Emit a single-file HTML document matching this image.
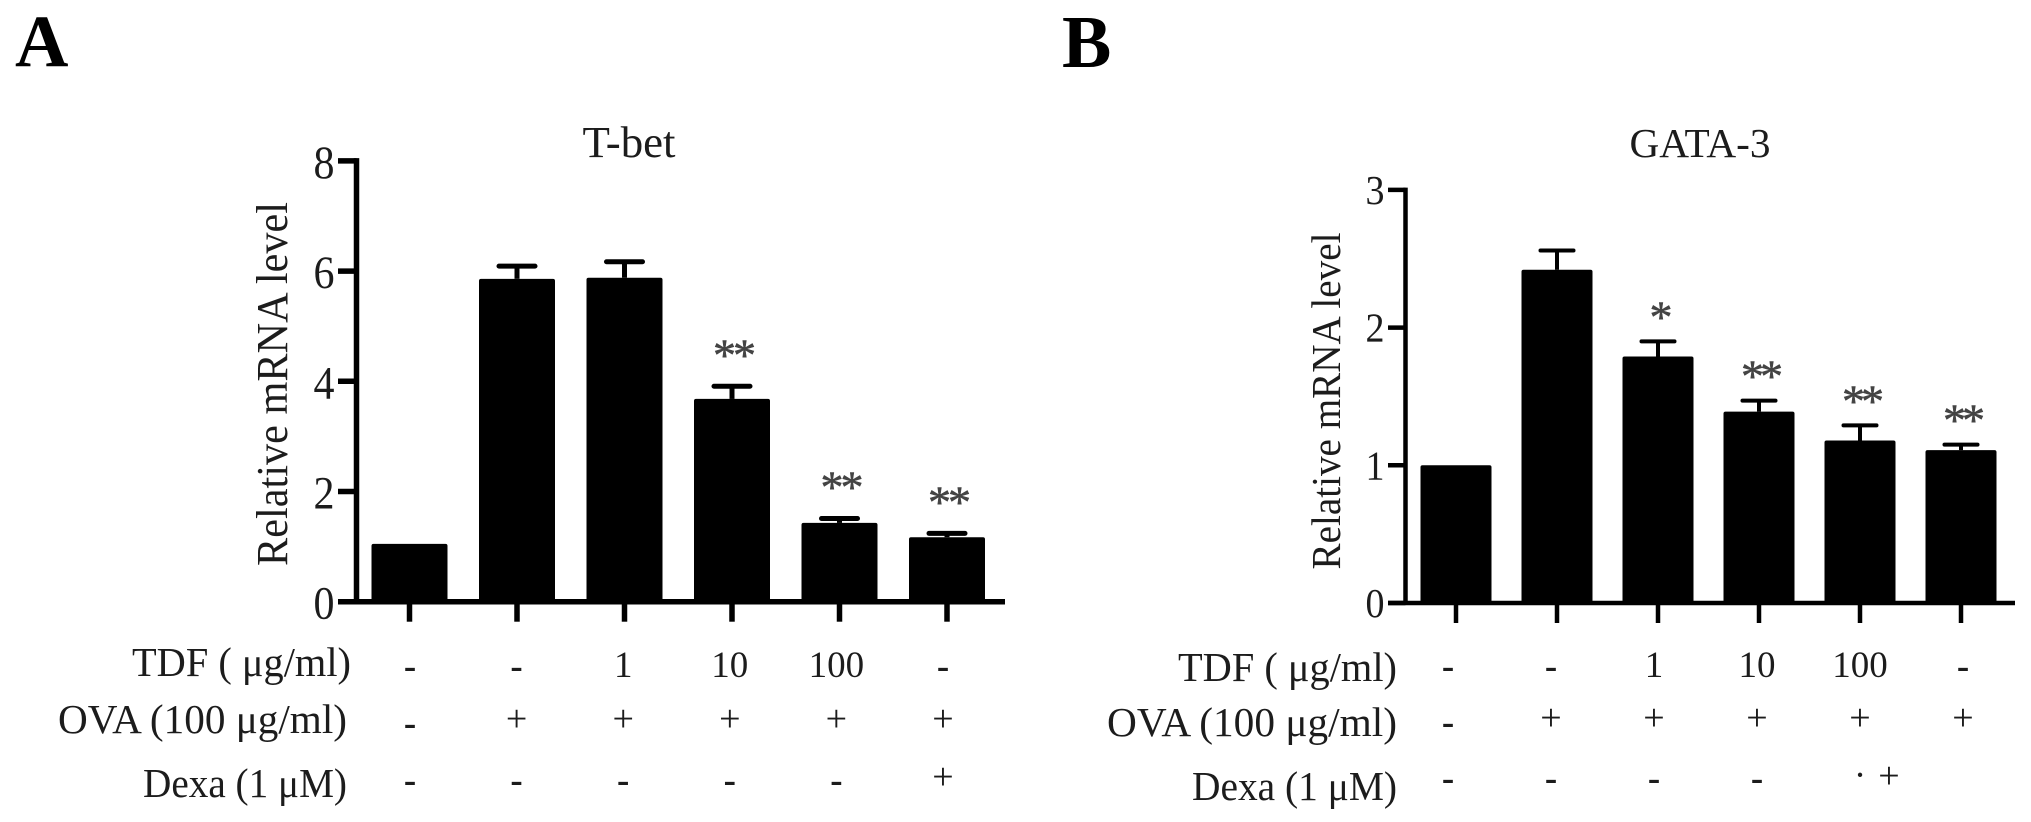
<!DOCTYPE html>
<html lang="en">
<head>
<meta charset="utf-8">
<title>T-bet and GATA-3 relative mRNA levels</title>
<style>
html,body{margin:0;padding:0;background:#fff;width:2031px;height:822px;overflow:hidden}
svg{display:block}
text{font-family:"Liberation Serif","Noto Serif CJK SC",serif;fill:#1c1c1c}
</style>
</head>
<body>
<svg id="figure" width="2031" height="822" viewBox="0 0 2031 822" xmlns="http://www.w3.org/2000/svg">
  <rect width="2031" height="822" fill="#fff"/>

  <text x="15" y="66" font-size="74" font-weight="bold" style="fill:#000">A</text>
  <text x="1062" y="67" font-size="74" font-weight="bold" style="fill:#000">B</text>

  <text x="629" y="157" font-size="44" text-anchor="middle" textLength="93" lengthAdjust="spacingAndGlyphs">T-bet</text>
  <text x="1700" y="157" font-size="41" text-anchor="middle" textLength="141" lengthAdjust="spacingAndGlyphs">GATA-3</text>

  <text transform="translate(287 384) rotate(-90)" font-size="44" text-anchor="middle" textLength="364" lengthAdjust="spacingAndGlyphs">Relative mRNA level</text>
  <text transform="translate(1340 401) rotate(-90)" font-size="41" text-anchor="middle" textLength="337" lengthAdjust="spacingAndGlyphs">Relative mRNA level</text>

  <text x="132" y="676" font-size="41" textLength="219" lengthAdjust="spacingAndGlyphs">TDF ( μg/ml)</text>
  <text x="58" y="733" font-size="41" textLength="289" lengthAdjust="spacingAndGlyphs">OVA (100 μg/ml)</text>
  <text x="143" y="797" font-size="41" textLength="204" lengthAdjust="spacingAndGlyphs">Dexa (1 μM)</text>

  <text x="1178" y="681" font-size="41" textLength="219" lengthAdjust="spacingAndGlyphs">TDF ( μg/ml)</text>
  <text x="1107" y="736" font-size="41" textLength="290" lengthAdjust="spacingAndGlyphs">OVA (100 μg/ml)</text>
  <text x="1192" y="800" font-size="41" textLength="205" lengthAdjust="spacingAndGlyphs">Dexa (1 μM)</text>

  <text x="1889" y="788" font-size="38" text-anchor="middle">+</text>

  <g id="panel-a"></g>
  <g id="panel-b"></g>
</svg>

<script>
// T-bet data
const tbetTicks = [0, 2, 4, 6, 8];
const tbetMeans = [1.05, 5.86, 5.88, 3.68, 1.43, 1.17];
const tbetErrors = [0, 0.23, 0.29, 0.23, 0.08, 0.07];
const tbetStars = ['', '', '', '**', '**', '**'];
const tbetTdf = ['-', '-', '1', '10', '100', '-'];
const tbetOva = ['-', '+', '+', '+', '+', '+'];
const tbetDexa = ['-', '-', '-', '-', '-', '+'];

// GATA-3 data
const gataTicks = [0, 1, 2, 3];
const gataMeans = [1.0, 2.42, 1.79, 1.39, 1.18, 1.11];
const gataErrors = [0, 0.14, 0.11, 0.08, 0.11, 0.04];
const gataStars = ['', '', '*', '**', '**', '**'];
const gataTdf = ['-', '-', '1', '10', '100', '-'];
const gataOva = ['-', '+', '+', '+', '+', '+'];
const gataDexa = ['-', '-', '-', '-', '·'];

const SVGNS = 'http://www.w3.org/2000/svg';

function mk(parent, tag, attrs, content) {
  const el = document.createElementNS(SVGNS, tag);
  for (const k in attrs) el.setAttribute(k, attrs[k]);
  if (content !== undefined) el.textContent = content;
  parent.appendChild(el);
  return el;
}

function drawPanel(root, o) {
  const y = v => o.y0 - v * o.unit;
  const x = i => o.x0 + i * o.step;
  const colX = i => o.col0 + i * o.colStep;

  o.means.forEach((m, i) => {
    if (o.errors[i] > 0) {
      const top = y(m + o.errors[i]);
      const stem = mk(root, 'line', {x1: x(i), x2: x(i), y1: top, y2: y(m), stroke: '#000', 'stroke-width': o.lw - 0.5});
      
      
      const cap = mk(root, 'line', {x1: x(i) - o.capW / 2 + 2, x2: x(i) + o.capW / 2 - 2, y1: top, y2: top, stroke: '#000', 'stroke-width': o.lw - 0.5, 'stroke-linecap': 'round'});
      
      
    }
    const bar = mk(root, 'rect', {x: x(i) - o.barW / 2, y: y(m), width: o.barW, height: o.y0 - y(m), rx: 2, fill: '#000'});
    
    

    if (o.stars[i]) {
      const star = mk(root, 'text', {x: x(i) + 1, y: y(m + o.errors[i]) - o.starGap + 21, 'font-size': 46, 'text-anchor': 'middle', 'letter-spacing': o.starSpacing, stroke: '#444', 'stroke-width': 0.6, style: 'fill:#444'}, o.stars[i]);
      
      
    }
    const tick = mk(root, 'line', {x1: x(i), x2: x(i), y1: o.y0, y2: o.y0 + 20, stroke: '#000', 'stroke-width': o.lw});
    
    
  });

  const yAxis = mk(root, 'line', {x1: o.axisX, x2: o.axisX, y1: y(o.ticks[o.ticks.length - 1]) - o.lw / 2, y2: o.y0, stroke: '#000', 'stroke-width': o.lw});
  
  

  const xAxis = mk(root, 'line', {x1: o.axisStart, x2: o.axisEnd, y1: o.y0, y2: o.y0, stroke: '#000', 'stroke-width': o.lw});
  
  

  o.ticks.forEach(t => {
    const tk = mk(root, 'line', {x1: o.axisStart, x2: o.axisX, y1: y(t), y2: y(t), stroke: '#000', 'stroke-width': o.lw});
    
    
    const lb = mk(root, 'text', {x: o.labelX, y: y(t) + o.labelDy, 'font-size': o.labelSize, 'text-anchor': 'middle', textLength: o.labelWidth, lengthAdjust: 'spacingAndGlyphs'}, String(t));
    
    
  });

  const rows = [
    {vals: o.tdf, digitBase: o.rowBase[0], minusBase: o.rowBase[0] + 1, name: 'tdf-value'},
    {vals: o.ova, digitBase: o.rowBase[1], minusBase: o.rowBase[1] + 4, name: 'ova-value'},
    {vals: o.dexa, digitBase: o.rowBase[2], minusBase: o.rowBase[2] + 3, name: 'dexa-value'}
  ];
  rows.forEach(r => {
    r.vals.forEach((v, i) => {
      const isMinus = v === '-';
      const attrs = {x: colX(i), y: isMinus ? r.minusBase : r.digitBase, 'font-size': v === '+' ? 38 : 37, 'text-anchor': 'middle'};
      if (isMinus) attrs['font-weight'] = 'bold';
      const c = mk(root, 'text', attrs, v);
      
      
    });
  });
}

drawPanel(document.getElementById('panel-a'), {
  ticks: tbetTicks, means: tbetMeans, errors: tbetErrors, stars: tbetStars,
  tdf: tbetTdf, ova: tbetOva, dexa: tbetDexa,
  y0: 601.7, unit: 55.1, x0: 409.5, step: 107.5, barW: 76, capW: 40,
  col0: 410, colStep: 106.6, axisX: 356.5, axisStart: 338, axisEnd: 1005,
  lw: 5.5, labelX: 324, labelDy: 17, labelSize: 47, labelWidth: 21, starGap: 37, starSpacing: -3,
  rowBase: [677, 731, 789]
});

drawPanel(document.getElementById('panel-b'), {
  ticks: gataTicks, means: gataMeans, errors: gataErrors, stars: gataStars,
  tdf: gataTdf, ova: gataOva, dexa: gataDexa,
  y0: 603, unit: 137.7, x0: 1456, step: 101, barW: 71, capW: 37,
  col0: 1448, colStep: 103, axisX: 1405.5, axisStart: 1388, axisEnd: 2015,
  lw: 4.5, labelX: 1375, labelDy: 14, labelSize: 41.5, labelWidth: 19, starGap: 30, starSpacing: -4,
  rowBase: [677, 730, 787]
});
</script>
</body>
</html>
